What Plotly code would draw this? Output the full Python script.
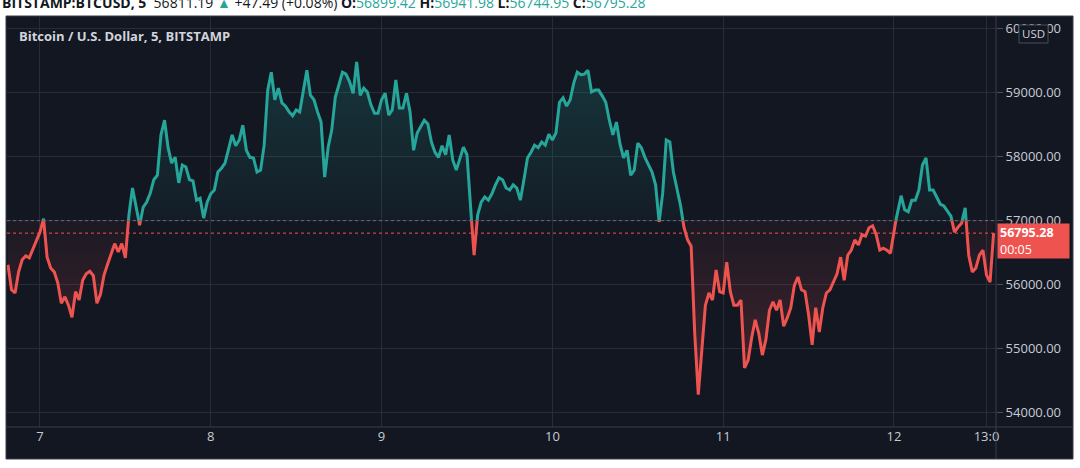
import numpy as np
import pandas as pd
import plotly.graph_objects as go

# ---------------- data (BTC/USD, 30-min samples) ----------------
START = "2021-03-06 19:30"
FREQ = "30min"
prices = [
    56300, 55910, 55860, 56190, 56380, 56440, 56410, 56550, 56690, 56810,
    57020, 56420, 56250, 56190, 56020, 55700, 55800, 55670, 55480, 55880,
    55750, 56060, 56160, 56200, 56130, 55700, 55840, 56140, 56310, 56480,
    56630, 56500, 56630, 56410, 57080, 57500, 57230, 56920, 57200, 57280,
    57420, 57630, 57700, 58330, 58560, 58130, 57890, 57980, 57580, 57860,
    57830, 57630, 57610, 57310, 57340, 57030, 57280, 57410, 57470, 57750,
    57810, 57890, 58090, 58330, 58160, 58250, 58480, 58090, 57980, 57970,
    57750, 57780, 58170, 59030, 59310, 58880, 59060, 58830, 58780, 58690,
    58630, 58720, 58690, 59030, 59340, 58950, 58880, 58690, 58530, 57670,
    58140, 58410, 58920, 59110, 59310, 59280, 59160, 58980, 59470, 58950,
    59060, 59000, 58800, 58670, 58670, 58880, 58980, 58640, 58720, 59190,
    58750, 58750, 58980, 58690, 58090, 58360, 58450, 58560, 58500, 58220,
    58060, 57980, 58160, 58020, 58330, 57940, 57780, 57970, 58140, 58020,
    57200, 56450, 57080, 57280, 57360, 57310, 57410, 57550, 57660, 57630,
    57500, 57470, 57550, 57500, 57310, 57630, 57970, 58060, 58170, 58130,
    58220, 58170, 58340, 58250, 58360, 58840, 58910, 58780, 58880, 59140,
    59310, 59270, 59280, 59340, 59000, 59030, 59030, 58940, 58840, 58560,
    58330, 58530, 58190, 57970, 58090, 57700, 57780, 58200, 58130, 57980,
    57860, 57750, 57550, 56970, 57420, 58250, 58220, 57750, 57500, 57230,
    56880, 56690, 56590, 55230, 54270, 54970, 55670, 55860, 55750, 56220,
    55880, 55860, 56340, 55880, 55670, 55670, 55750, 54690, 54810, 55160,
    55440, 55230, 54890, 55130, 55590, 55720, 55590, 55750, 55340, 55470,
    55630, 55980, 56110, 55910, 55880, 55520, 55050, 55630, 55250, 55630,
    55860, 55910, 56030, 56160, 56420, 56060, 56450, 56530, 56690, 56610,
    56770, 56750, 56880, 56910, 56770, 56530, 56560, 56530, 56480, 56840,
    57130, 57380, 57160, 57130, 57310, 57310, 57470, 57860, 57970, 57470,
    57470, 57360, 57250, 57220, 57130, 57060, 56810, 56890, 56950, 57190,
    56450, 56190, 56250, 56450, 56530, 56140, 56030, 56795.28,
]
BASE = 56990
LAST_PRICE = 56795.28
X_TICKS = ["2021-03-07", "2021-03-08", "2021-03-09", "2021-03-10",
           "2021-03-11", "2021-03-12", "2021-03-12 13:00"]
X_TICK_TEXT = ["7", "8", "9", "10", "11", "12", "13:0"]
Y_TICKS = [54000, 55000, 56000, 57000, 58000, 59000, 60000]
X_RANGE = ["2021-03-06 19:22", "2021-03-12 14:20"]
Y_RANGE = [53766, 60188]

HEADER = ('<b>BITSTAMP:BTCUSD, 5</b>  56811.19 <span style="color:#26a69a">▲</span> +47.49 (+0.08%) '
          '<b>O:</b><span style="color:#26a69a">56899.42</span> '
          '<b>H:</b><span style="color:#26a69a">56941.98</span> '
          '<b>L:</b><span style="color:#26a69a">56744.95</span> '
          '<b>C:</b><span style="color:#26a69a">56795.28</span>')
TITLE = "Bitcoin / U.S. Dollar, 5, BITSTAMP"

# ---------------- styling ----------------
BG = "#131722"
GRID = "#282c37"
UP = "#26a69a"
DN = "#ef5350"
TXT = "#c8cbd2"
FONT = "Open Sans"

W, H = 1080, 468
L, R, T, B = 7, 84, 16, 41
PW, PH = W - L - R, H - T - B


def pxx(px):
    return (px - L) / PW


def pxy(py):
    return (H - B - py) / PH


# ---------------- split the series at the baseline ----------------
t = pd.date_range(START, periods=len(prices), freq=FREQ)
tn = t.asi8.astype(float)
xs, ys = [], []
for i in range(len(prices)):
    if i > 0:
        y0, y1 = prices[i - 1], prices[i]
        if (y0 - BASE) * (y1 - BASE) < 0:
            f = (BASE - y0) / (y1 - y0)
            xs.append(tn[i - 1] + f * (tn[i] - tn[i - 1]))
            ys.append(BASE)
    xs.append(tn[i])
    ys.append(prices[i])
xs = pd.to_datetime(np.array(xs).astype("int64"))
ys = np.array(ys, dtype=float)

up_line = np.where(ys >= BASE, ys, np.nan)
dn_line = np.where(ys <= BASE, ys, np.nan)
up_fill = np.maximum(ys, BASE)
dn_fill = np.minimum(ys, BASE)
base_arr = np.full(len(ys), BASE, dtype=float)

fig = go.Figure()
fig.add_trace(go.Scatter(x=xs, y=base_arr, mode="lines", line=dict(width=0),
                         hoverinfo="skip", showlegend=False))
fig.add_trace(go.Scatter(x=xs, y=up_fill, mode="lines", line=dict(width=0),
                         fill="tonexty",
                         fillgradient=dict(type="vertical", start=BASE, stop=Y_RANGE[1],
                                           colorscale=[[0, "rgba(38,166,154,0.04)"],
                                                       [1, "rgba(38,166,154,0.26)"]]),
                         hoverinfo="skip", showlegend=False))
fig.add_trace(go.Scatter(x=xs, y=base_arr, mode="lines", line=dict(width=0),
                         hoverinfo="skip", showlegend=False))
fig.add_trace(go.Scatter(x=xs, y=dn_fill, mode="lines", line=dict(width=0),
                         fill="tonexty",
                         fillgradient=dict(type="vertical", start=Y_RANGE[0], stop=BASE,
                                           colorscale=[[0, "rgba(239,83,80,0.26)"],
                                                       [1, "rgba(239,83,80,0.04)"]]),
                         hoverinfo="skip", showlegend=False))
fig.add_trace(go.Scatter(x=xs, y=up_line, mode="lines", line=dict(color=UP, width=3),
                         connectgaps=False, showlegend=False))
fig.add_trace(go.Scatter(x=xs, y=dn_line, mode="lines", line=dict(color=DN, width=3),
                         connectgaps=False, showlegend=False))

shapes = [
    # dark panel
    dict(type="rect", xref="paper", yref="paper", x0=pxx(6), x1=pxx(1073),
         y0=pxy(459), y1=pxy(16), fillcolor=BG, line=dict(color="#3b3f4a", width=1),
         layer="below"),
    # separators
    dict(type="line", xref="paper", yref="paper", x0=pxx(996), x1=pxx(996),
         y0=pxy(459), y1=pxy(16), line=dict(color="#3b3f4a", width=1)),
    dict(type="line", xref="paper", yref="paper", x0=pxx(6), x1=pxx(1073),
         y0=pxy(427), y1=pxy(427), line=dict(color="#3b3f4a", width=1)),
    # baseline and last price lines
    dict(type="line", xref="paper", yref="y", x0=0, x1=1, y0=BASE, y1=BASE,
         line=dict(color="#6b6e78", width=1, dash="dot")),
    dict(type="line", xref="paper", yref="y", x0=0, x1=1, y0=LAST_PRICE, y1=LAST_PRICE,
         line=dict(color=DN, width=1, dash="dot")),
    # USD box
    dict(type="rect", xref="paper", yref="paper", x0=pxx(1019), x1=pxx(1048),
         y0=pxy(43), y1=pxy(25), fillcolor=BG, line=dict(color="#4a4e59", width=1)),
]

annotations = [
    dict(text=HEADER, xref="paper", yref="paper", x=pxx(0), y=pxy(2),
         xanchor="left", yanchor="middle", showarrow=False,
         font=dict(family=FONT, size=14, color="#131722")),
    dict(text="<b>" + TITLE + "</b>", xref="paper", yref="paper", x=pxx(17), y=pxy(36),
         xanchor="left", yanchor="middle", showarrow=False,
         font=dict(family=FONT, size=13, color="#d1d4dc")),
    dict(text="USD", xref="paper", yref="paper", x=pxx(1033.5), y=pxy(34),
         xanchor="center", yanchor="middle", showarrow=False,
         font=dict(family=FONT, size=11.5, color="#d1d4dc")),
    dict(text="<b>56795.28</b><br>00:05", xref="paper", yref="y", x=pxx(997), y=LAST_PRICE,
         xanchor="left", yanchor="top", yshift=10, showarrow=False, align="left",
         width=67, height=30, borderpad=2, bgcolor=DN,
         font=dict(family=FONT, size=12.5, color="#ffffff")),
]

fig.update_layout(
    width=W, height=H,
    margin=dict(l=L, r=R, t=T, b=B),
    paper_bgcolor="#ffffff",
    plot_bgcolor=BG,
    showlegend=False,
    hovermode=False,
    shapes=shapes,
    annotations=annotations,
    font=dict(family=FONT, color=TXT),
    xaxis=dict(type="date", range=X_RANGE, tickvals=X_TICKS, ticktext=X_TICK_TEXT,
               showgrid=True, gridcolor=GRID, gridwidth=1, zeroline=False,
               showline=False, ticks="", tickfont=dict(family=FONT, size=13, color=TXT),
               fixedrange=True),
    yaxis=dict(side="right", range=Y_RANGE, tickvals=Y_TICKS, tickformat=".2f",
               showgrid=True, gridcolor=GRID, gridwidth=1, zeroline=False,
               showline=False, ticks="outside", ticklen=6, tickcolor="#4a4e59",
               tickfont=dict(family=FONT, size=13, color=TXT), fixedrange=True),
)

fig.write_html("out.html", config={"displayModeBar": False},
               post_script="document.body.style.margin='0px';")
